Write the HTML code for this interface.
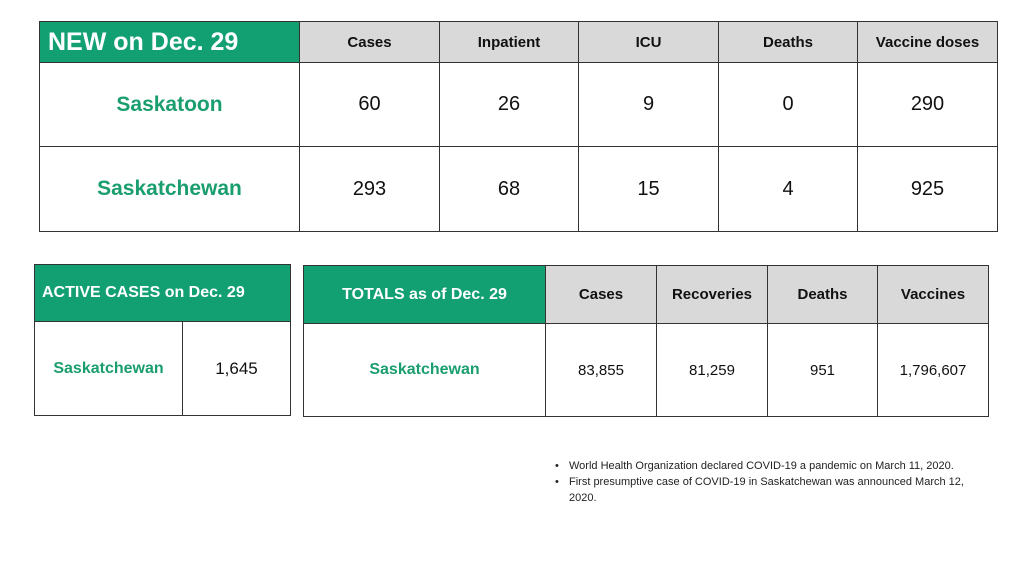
<!DOCTYPE html>
<html><head><style>
body{margin:0;width:1024px;height:576px;background:#fff;position:relative;overflow:hidden;font-family:"Liberation Sans",sans-serif;}
.c{position:absolute;box-sizing:border-box;border:1.5px solid #333;display:flex;align-items:center;justify-content:center;color:#111;}
.g{background:#12a073;color:#fff;font-weight:bold;}
.h{background:#d9d9d9;font-weight:bold;font-size:15px;}
.n{font-size:20px;}
.s{color:#1a9e6e;font-weight:bold;}
.ul{position:absolute;left:555px;top:458px;font-size:11px;color:#222;line-height:16px;width:425px;}
.ul div{position:relative;padding-left:14px;}
.ul div:before{content:"•";position:absolute;left:0;}
</style></head><body>
<div class="c g" style="left:39px;top:21px;width:261px;height:42px;justify-content:flex-start;padding-left:8px;font-size:25px;">NEW on Dec. 29</div>
<div class="c h" style="left:299px;top:21px;width:141px;height:42px;">Cases</div>
<div class="c h" style="left:439px;top:21px;width:140px;height:42px;">Inpatient</div>
<div class="c h" style="left:578px;top:21px;width:141px;height:42px;">ICU</div>
<div class="c h" style="left:718px;top:21px;width:140px;height:42px;">Deaths</div>
<div class="c h" style="left:857px;top:21px;width:141px;height:42px;">Vaccine doses</div>

<div class="c s" style="left:39px;top:62px;width:261px;height:85px;font-size:21px;">Saskatoon</div>
<div class="c n" style="left:299px;top:62px;width:141px;height:85px;">60</div>
<div class="c n" style="left:439px;top:62px;width:140px;height:85px;">26</div>
<div class="c n" style="left:578px;top:62px;width:141px;height:85px;">9</div>
<div class="c n" style="left:718px;top:62px;width:140px;height:85px;">0</div>
<div class="c n" style="left:857px;top:62px;width:141px;height:85px;">290</div>

<div class="c s" style="left:39px;top:146px;width:261px;height:86px;font-size:21px;">Saskatchewan</div>
<div class="c n" style="left:299px;top:146px;width:141px;height:86px;">293</div>
<div class="c n" style="left:439px;top:146px;width:140px;height:86px;">68</div>
<div class="c n" style="left:578px;top:146px;width:141px;height:86px;">15</div>
<div class="c n" style="left:718px;top:146px;width:140px;height:86px;">4</div>
<div class="c n" style="left:857px;top:146px;width:141px;height:86px;">925</div>

<div class="c g" style="left:34px;top:264px;width:257px;height:58px;justify-content:flex-start;padding-left:7px;font-size:16px;">ACTIVE CASES on Dec. 29</div>
<div class="c s" style="left:34px;top:321px;width:149px;height:95px;font-size:16px;">Saskatchewan</div>
<div class="c" style="left:182px;top:321px;width:109px;height:95px;font-size:17px;">1,645</div>

<div class="c g" style="left:303px;top:265px;width:243px;height:59px;font-size:16px;">TOTALS as of Dec. 29</div>
<div class="c h" style="left:545px;top:265px;width:112px;height:59px;font-size:15px;">Cases</div>
<div class="c h" style="left:656px;top:265px;width:112px;height:59px;font-size:15px;">Recoveries</div>
<div class="c h" style="left:767px;top:265px;width:111px;height:59px;font-size:15px;">Deaths</div>
<div class="c h" style="left:877px;top:265px;width:112px;height:59px;font-size:15px;">Vaccines</div>
<div class="c s" style="left:303px;top:323px;width:243px;height:94px;font-size:16px;">Saskatchewan</div>
<div class="c" style="left:545px;top:323px;width:112px;height:94px;font-size:15px;">83,855</div>
<div class="c" style="left:656px;top:323px;width:112px;height:94px;font-size:15px;">81,259</div>
<div class="c" style="left:767px;top:323px;width:111px;height:94px;font-size:15px;">951</div>
<div class="c" style="left:877px;top:323px;width:112px;height:94px;font-size:15px;">1,796,607</div>

<div class="ul">
<div>World Health Organization declared COVID-19 a pandemic on March 11, 2020.</div>
<div>First presumptive case of COVID-19 in Saskatchewan was announced March 12, 2020.</div>
</div>
</body></html>
